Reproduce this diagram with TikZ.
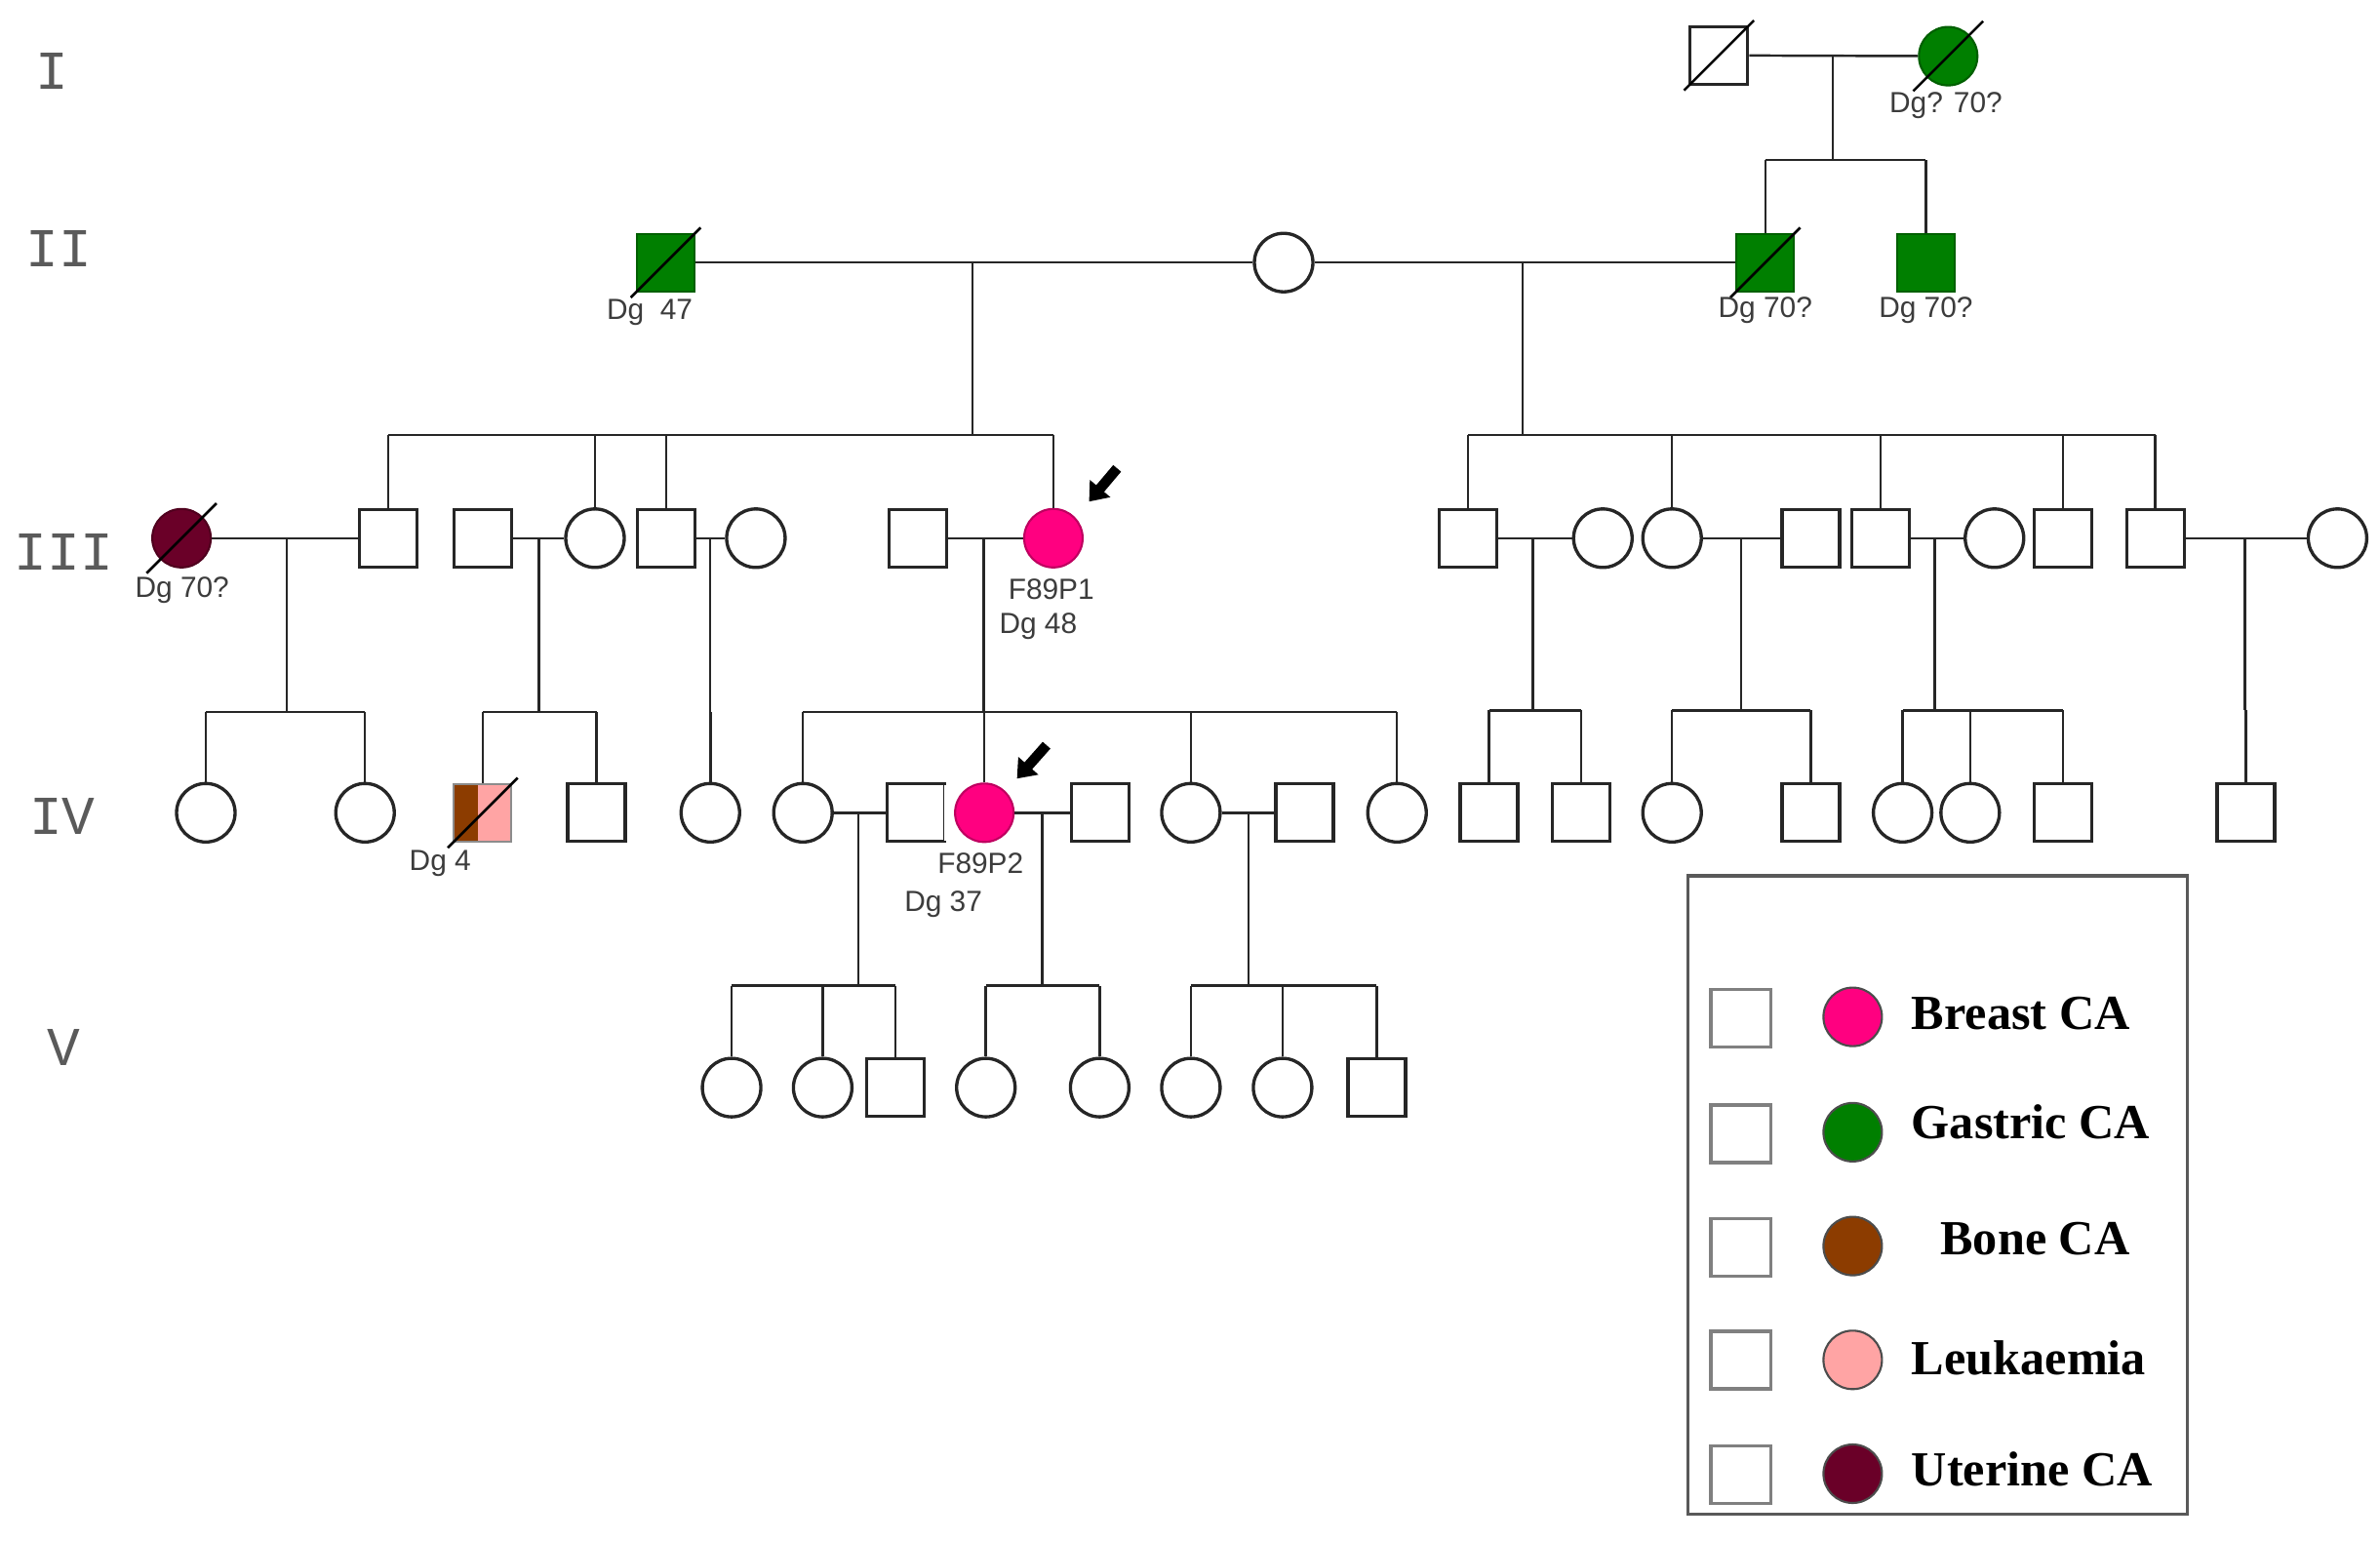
\documentclass[tikz,border=0pt]{standalone}
\usepackage{fontspec}
\setmainfont{Liberation Serif}
\newfontfamily\lblfont{Liberation Sans}
\newfontfamily\genfont{Liberation Mono}
\usetikzlibrary{arrows.meta,calc}
\definecolor{breastc}{HTML}{FF0080}
\definecolor{gastc}{HTML}{007F00}
\definecolor{bonec}{HTML}{8C3C00}
\definecolor{leukc}{HTML}{FFA4A4}
\definecolor{uterc}{HTML}{6A0028}
\definecolor{lblc}{HTML}{3C3C3C}
\definecolor{genc}{HTML}{5A5A5A}
\tikzset{
  male/.style={rectangle, draw=black!85, line width=0.95pt, minimum width=0.59cm, minimum height=0.59cm, inner sep=0pt, fill=white},
  female/.style={circle, draw=black!85, line width=0.95pt, minimum size=0.6cm, inner sep=0pt, fill=white},
  affected/.style={fill=#1, draw=#1!75!black, line width=0.6pt},
  rel/.style={line width=0.7pt, draw=black!85},
  dslash/.style={line width=0.75pt, draw=black},
  lbl/.style={font=\lblfont\fontsize{8.5}{10}\selectfont, text=lblc, inner sep=0pt},
  gen/.style={font=\genfont\fontsize{16}{18}\selectfont, text=genc, inner sep=0pt},
  legtext/.style={font=\bfseries\fontsize{14.3}{16}\selectfont, anchor=base west, inner sep=0pt},
  legsq/.style={rectangle, draw=black!50, line width=1pt, minimum width=0.615cm, minimum height=0.59cm, inner sep=0pt},
  legci/.style={circle, draw=black!70, line width=0.6pt, minimum size=0.6cm, inner sep=0pt, fill=#1},
  legbox/.style={rectangle, draw=black!65, line width=0.9pt, minimum width=5.12cm, minimum height=6.55cm, inner sep=0pt},
  proband/.style={line width=3pt, draw=black, -{Triangle[length=5pt,width=7.5pt]}},
}
\newcommand\deadmark[1]{\draw[dslash] ([shift={(-23,23)}]#1.center) -- ([shift={(23,-23)}]#1.center);}
% #1 junction, #2 sibship y, #3 first child, #4 last child, #5 children
\newcommand\pedfam[5]{%
  \draw[rel] (#1) -- (#1 |- 0,#2);
  \draw[rel] (#3.north |- 0,#2) -- (#4.north |- 0,#2);
  \foreach \kid in {#5} {\draw[rel] (\kid.north) -- (\kid.north |- 0,#2);}
}
\begin{document}
\begin{tikzpicture}[x=0.015561cm, y=-0.015561cm]
\fill[white] (0,0) rectangle (1568,1015);
\useasboundingbox (0,0) rectangle (1568,1015);

% generation labels
\node[gen] (g1) at (34,47) {I};
\node[gen] (g2) at (38.6,164) {II};
\node[gen] (g3) at (42,364) {III};
\node[gen] (g4) at (41,538) {IV};
\node[gen] (g5) at (42,690) {V};

% Generation I
\node[male] (I1) at (1132.5,36.5) {};
\node[female, affected=gastc] (I2) at (1283.5,37) {};

% Generation II
\node[male, affected=gastc] (II1) at (438.6,173) {};
\node[female] (II2) at (845.7,173) {};
\node[male, affected=gastc] (II3) at (1163,173) {};
\node[male, affected=gastc] (II4) at (1268.8,173) {};

% Generation III
\node[female, affected=uterc] (III1) at (119.6,354.6) {};
\node[male] (III2) at (255.7,354.6) {};
\node[male] (III3) at (318,354.6) {};
\node[female] (III4) at (392,354.6) {};
\node[male] (III5) at (439,354.6) {};
\node[female] (III6) at (498,354.6) {};
\node[male] (III7) at (604.6,354.6) {};
\node[female, affected=breastc] (III8) at (694,354.6) {};
\node[male] (III9) at (967,354.6) {};
\node[female] (III10) at (1056,354.6) {};
\node[female] (III11) at (1101.6,354.6) {};
\node[male] (III12) at (1193,354.6) {};
\node[male] (III13) at (1239,354.6) {};
\node[female] (III14) at (1314,354.6) {};
\node[male] (III15) at (1359,354.6) {};
\node[male] (III16) at (1420,354.6) {};
\node[female] (III17) at (1540,354.6) {};

% Generation IV
\node[female] (IV1) at (135.6,535.5) {};
\node[female] (IV2) at (240.5,535.5) {};
\node[male, fill=leukc, draw=black!45, line width=0.6pt,
  path picture={\fill[bonec] (path picture bounding box.south west) rectangle ($(path picture bounding box.north west)!0.42!(path picture bounding box.north east)$);}] (IV3) at (318,535.5) {};
\node[male] (IV4) at (393,535.5) {};
\node[female] (IV5) at (468,535.5) {};
\node[female] (IV6) at (529,535.5) {};
\node[male] (IV7) at (603.6,535.5) {};
\node[female, affected=breastc] (IV8) at (648.5,535.5) {};
\node[male] (IV9) at (725,535.5) {};
\node[female] (IV10) at (784.6,535.5) {};
\node[male] (IV11) at (859.5,535.5) {};
\node[female] (IV12) at (920.4,535.5) {};
\node[male] (IV13) at (981,535.5) {};
\node[male] (IV14) at (1041.6,535.5) {};
\node[female] (IV15) at (1101.6,535.5) {};
\node[male] (IV16) at (1193,535.5) {};
\node[female] (IV17) at (1253.5,535.5) {};
\node[female] (IV18) at (1298,535.5) {};
\node[male] (IV19) at (1359,535.5) {};
\node[male] (IV20) at (1479.6,535.5) {};
\draw[white, line width=1.4pt] ([yshift=-0.7pt]IV7.north east) -- ([yshift=0.7pt]IV7.south east);

% Generation V
\node[female] (V1) at (482,716.6) {};
\node[female] (V2) at (542,716.6) {};
\node[male] (V3) at (590,716.6) {};
\node[female] (V4) at (649.5,716.6) {};
\node[female] (V5) at (724.5,716.6) {};
\node[female] (V6) at (784.6,716.6) {};
\node[female] (V7) at (845,716.6) {};
\node[male] (V8) at (907,716.6) {};

% marriages
\draw[rel] (I1) -- (I2);
\draw[rel] (II1) -- (II2);
\draw[rel] (II2) -- (II3);
\draw[rel] (III1) -- (III2);
\draw[rel] (III3) -- (III4);
\draw[rel] (III5) -- (III6);
\draw[rel] (III7) -- (III8);
\draw[rel] (III9) -- (III10);
\draw[rel] (III11) -- (III12);
\draw[rel] (III13) -- (III14);
\draw[rel] (III16) -- (III17);
\draw[rel] (IV6) -- (IV7);
\draw[rel] (IV8) -- (IV9);
\draw[rel] (IV10) -- (IV11);

% junctions on marriage lines
\coordinate (jI) at (1207.6,36.5);
\coordinate (jIIa) at (640.7,173);
\coordinate (jIIb) at (1003,173);
\coordinate (jIIIa) at (189,354.6);
\coordinate (jIIIb) at (355,354.6);
\coordinate (jIIIc) at (467.8,354.6);
\coordinate (jIIId) at (648,354.6);
\coordinate (jIIIe) at (1010,354.6);
\coordinate (jIIIf) at (1147,354.6);
\coordinate (jIIIg) at (1274.5,354.6);
\coordinate (jIIIh) at (1479,354.6);
\coordinate (jIVa) at (565.6,535.5);
\coordinate (jIVb) at (686.6,535.5);
\coordinate (jIVc) at (822.6,535.5);

% sibships
\pedfam{jI}{105.4}{II3}{II4}{II3,II4}
\pedfam{jIIa}{286.5}{III2}{III8}{III2,III4,III5,III8}
\pedfam{jIIb}{286.5}{III9}{III16}{III9,III11,III13,III15,III16}
\pedfam{jIIIa}{469}{IV1}{IV2}{IV1,IV2}
\pedfam{jIIIb}{469}{IV3}{IV4}{IV3,IV4}
\pedfam{jIIIc}{469}{IV5}{IV5}{IV5}
\pedfam{jIIId}{469}{IV6}{IV12}{IV6,IV8,IV10,IV12}
\pedfam{jIIIe}{468}{IV13}{IV14}{IV13,IV14}
\pedfam{jIIIf}{468}{IV15}{IV16}{IV15,IV16}
\pedfam{jIIIg}{468}{IV17}{IV19}{IV17,IV18,IV19}
\pedfam{jIIIh}{468}{IV20}{IV20}{IV20}
\pedfam{jIVa}{649.5}{V1}{V3}{V1,V2,V3}
\pedfam{jIVb}{649.5}{V4}{V5}{V4,V5}
\pedfam{jIVc}{649.5}{V6}{V8}{V6,V7,V8}

% deceased marks
\deadmark{I1}
\deadmark{I2}
\deadmark{II1}
\deadmark{II3}
\deadmark{III1}
\deadmark{IV3}

% probands
\coordinate (a1t) at (736,308.6);
\coordinate (a1h) at (717.5,330.5);
\draw[proband] (a1t) -- (a1h);
\coordinate (a2t) at (689.5,491);
\coordinate (a2h) at (670,513);
\draw[proband] (a2t) -- (a2h);

% labels
\node[lbl] (t1) at (1282,69.6) {Dg? 70?};
\node[lbl] (t2) at (428,205.6) {Dg\ \ 47};
\node[lbl] (t3) at (1163,204.5) {Dg 70?};
\node[lbl] (t4) at (1268.8,204.5) {Dg 70?};
\node[lbl] (t5) at (120,389) {Dg 70?};
\node[lbl] (t6) at (692.6,388.5) {F89P1};
\node[lbl] (t7) at (684,412.5) {Dg 48};
\node[lbl] (t8) at (290,569) {Dg 4};
\node[lbl] (t9) at (646,569) {F89P2};
\node[lbl] (t10) at (621.5,595.6) {Dg 37};

% legend
\node[legbox] (leg) at (1276.5,787.5) {};
\node[legsq] (ls1) at (1147,671) {};
\node[legsq] (ls2) at (1147,747) {};
\node[legsq] (ls3) at (1147,822) {};
\node[legsq] (ls4) at (1147,896) {};
\node[legsq] (ls5) at (1147,971.5) {};
\node[legci=breastc] (lc1) at (1220.6,670) {};
\node[legci=gastc] (lc2) at (1220.6,746) {};
\node[legci=bonec] (lc3) at (1220.6,821) {};
\node[legci=leukc] (lc4) at (1220.6,896) {};
\node[legci=uterc] (lc5) at (1220.6,971) {};
\node[legtext] (lt1) at (1259,678) {Breast CA};
\node[legtext] (lt2) at (1259,750) {Gastric CA};
\node[legtext] (lt3) at (1278,826.5) {Bone CA};
\node[legtext] (lt4) at (1259,905.6) {Leukaemia};
\node[legtext] (lt5) at (1259,979) {Uterine CA};
\end{tikzpicture}
\end{document}
